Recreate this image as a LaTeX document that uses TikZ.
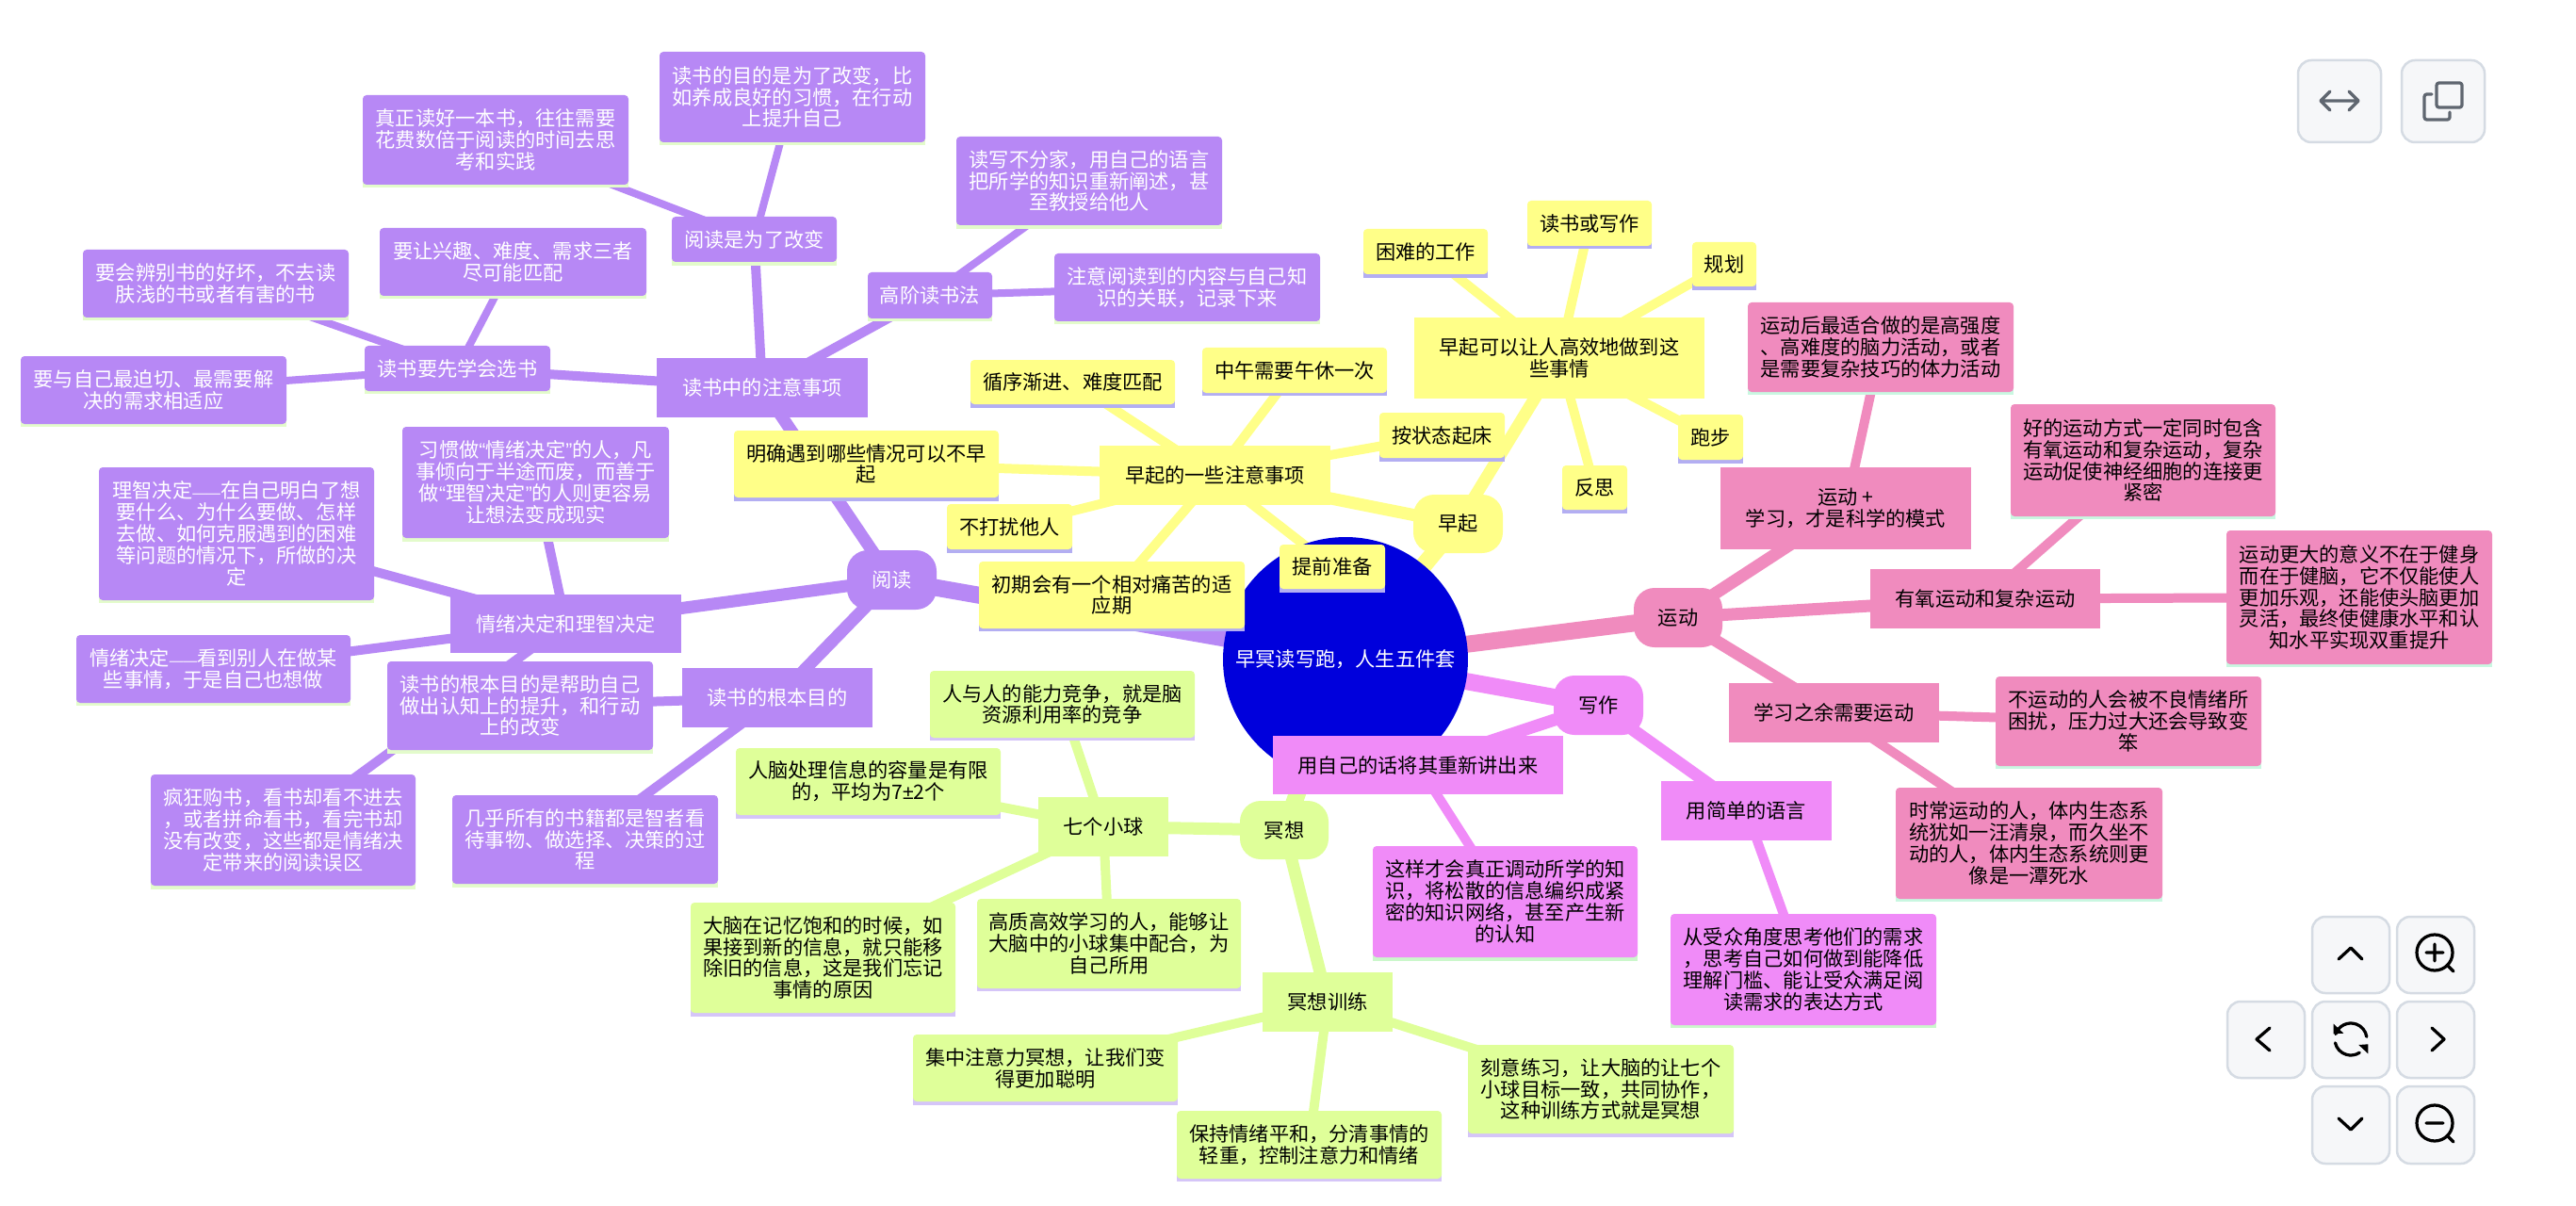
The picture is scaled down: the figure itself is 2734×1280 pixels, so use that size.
\documentclass[tikz,border=0pt]{standalone}
\usepackage{fontspec}
\setmainfont{Noto Sans CJK SC}
\newfontfamily\qf{Liberation Sans}
\newfontfamily\df[Scale=0.7]{Liberation Sans}
\pgfdeclarelayer{bgw}
\pgfdeclarelayer{bg}
\pgfsetlayers{bgw,bg,main}
\definecolor{puc}{HTML}{B788F5}
\definecolor{yec}{HTML}{FFFF88}
\definecolor{pkc}{HTML}{F08BBE}
\definecolor{mgc}{HTML}{F08BF8}
\definecolor{lic}{HTML}{DFFF99}
\definecolor{pus}{HTML}{E3FBCB}
\definecolor{yes}{HTML}{B3AEF2}
\definecolor{pks}{HTML}{C9F7E1}
\definecolor{mgs}{HTML}{CBF7CB}
\definecolor{lis}{HTML}{D5C5F8}
\definecolor{rootc}{HTML}{0000DC}
\definecolor{btnf}{HTML}{F6F7F9}
\definecolor{btnb}{HTML}{D5DBE3}
\definecolor{icong}{HTML}{5F6670}
\tikzset{
  pu/.style={fill=puc,text=white},
  ye/.style={fill=yec,text=black},
  pk/.style={fill=pkc,text=black},
  mg/.style={fill=mgc,text=black},
  li/.style={fill=lic,text=black},
  txt/.style={font=\fontsize{12.07}{13}\selectfont,align=center,inner sep=0pt,outer sep=0pt},
  leafbox/.style={txt,rectangle,rounded corners=0.08cm},
  midbox/.style={txt,rectangle},
  topbox/.style={txt,rectangle,rounded corners=0.44cm},
  e1/.style={line width=0.36cm},
  e2/.style={line width=0.26cm},
  e3/.style={line width=0.2cm},
  e4/.style={line width=0.16cm},
  btn/.style={rectangle,rounded corners=0.28cm,draw=btnb,fill=btnf,line width=0.05cm,inner sep=0pt},
  ico/.style={line width=0.065cm,line cap=round,line join=round},
}
% name, family, x1,y1,x2,y2, strip bottom, text
\newcommand{\lfn}[8]{%
  \fill[#2s] ({#3},{#6-6}) rectangle ({#5},{#7});
  \node[leafbox,#2,minimum width={(#5-#3)*0.02cm},minimum height={(#6-#4)*0.02cm}] (#1) at ({(#3+#5)/2},{(#4+#6)/2}) {#8};}
\newcommand{\mdn}[7]{%
  \node[midbox,#2,minimum width={(#5-#3)*0.02cm},minimum height={(#6-#4)*0.02cm}] (#1) at ({(#3+#5)/2},{(#4+#6)/2}) {#7};}
\newcommand{\tpn}[7]{%
  \node[topbox,#2,minimum width={(#5-#3)*0.02cm},minimum height={(#6-#4)*0.02cm}] (#1) at ({(#3+#5)/2},{(#4+#6)/2}) {#7};}
\newcommand{\btnn}[5]{%
  \node[btn,minimum width={(#4-#2)*0.02cm},minimum height={(#5-#3)*0.02cm}] (#1) at ({(#2+#4)/2},{(#3+#5)/2}) {};}
\begin{document}
\begin{tikzpicture}[x=0.02cm,y=-0.02cm]
\useasboundingbox (0,0) rectangle (2734,1280);
\begin{pgfonlayer}{bgw}
\fill[white] (0,0) rectangle (2734,1280);
\end{pgfonlayer}
% root
\node[circle,fill=rootc,text=white,minimum size=5.2cm,inner sep=0pt,font=\fontsize{12.07}{13}\selectfont] (root) at (1428,700) {早冥读写跑，人生五件套};
% reading
\tpn{yd}{pu}{899}{584}{994}{647}{阅读}
\mdn{yz}{pu}{697}{380}{921}{443}{读书中的注意事项}
\lfn{yg}{pu}{713}{230}{888}{278}{282}{阅读是为了改变}
\lfn{yg1}{pu}{700}{55}{982}{151}{154}{读书的目的是为了改变，比\\如养成良好的习惯，在行动\\上提升自己}
\lfn{yg2}{pu}{385}{101}{667}{196}{199}{真正读好一本书，往往需要\\花费数倍于阅读的时间去思\\考和实践}
\lfn{gj}{pu}{921}{289}{1053}{338}{341}{高阶读书法}
\lfn{gj1}{pu}{1015}{145}{1297}{239}{243}{读写不分家，用自己的语言\\把所学的知识重新阐述，甚\\至教授给他人}
\lfn{gj2}{pu}{1119}{269}{1401}{341}{344}{注意阅读到的内容与自己知\\识的关联，记录下来}
\lfn{xs}{pu}{387}{367}{584}{415}{418}{读书要先学会选书}
\lfn{xs1}{pu}{403}{242}{686}{314}{317}{要让兴趣、难度、需求三者\\尽可能匹配}
\lfn{xs2}{pu}{88}{265}{370}{337}{340}{要会辨别书的好坏，不去读\\肤浅的书或者有害的书}
\lfn{xs3}{pu}{22}{378}{304}{450}{453}{要与自己最迫切、最需要解\\决的需求相适应}
\mdn{qx}{pu}{478}{631}{723}{693}{情绪决定和理智决定}
\lfn{qx1}{pu}{427}{453}{710}{571}{575}{习惯做{\qf “}情绪决定{\qf ”}的人，凡\\事倾向于半途而废，而善于\\做{\qf “}理智决定{\qf ”}的人则更容易\\让想法变成现实}
\lfn{qx2}{pu}{105}{496}{397}{637}{640}{理智决定{\df ——}在自己明白了想\\要什么、为什么要做、怎样\\去做、如何克服遇到的困难\\等问题的情况下，所做的决\\定}
\lfn{qx3}{pu}{81}{674}{372}{746}{749}{情绪决定{\df ——}看到别人在做某\\些事情，于是自己也想做}
\lfn{qx4}{pu}{160}{822}{441}{940}{944}{疯狂购书，看书却看不进去\\，或者拼命看书，看完书却\\没有改变，这些都是情绪决\\定带来的阅读误区}
\mdn{gb}{pu}{724}{709}{926}{772}{读书的根本目的}
\lfn{gb1}{pu}{411}{702}{693}{796}{800}{读书的根本目的是帮助自己\\做出认知上的提升，和行动\\上的改变}
\lfn{gb2}{pu}{480}{844}{762}{938}{942}{几乎所有的书籍都是智者看\\待事物、做选择、决策的过\\程}
% early rising
\tpn{zq}{ye}{1500}{525}{1595}{587}{早起}
\mdn{zk}{ye}{1501}{337}{1809}{423}{早起可以让人高效地做到这\\些事情}
\lfn{zk1}{ye}{1447}{243}{1579}{291}{295}{困难的工作}
\lfn{zk2}{ye}{1621}{213}{1753}{261}{264}{读书或写作}
\lfn{zk3}{ye}{1796}{257}{1864}{304}{308}{规划}
\lfn{zk4}{ye}{1781}{440}{1850}{488}{492}{跑步}
\lfn{zk5}{ye}{1658}{494}{1727}{541}{545}{反思}
\mdn{zs}{ye}{1167}{473}{1412}{536}{早起的一些注意事项}
\lfn{zs1}{ye}{1276}{369}{1472}{417}{420}{中午需要午休一次}
\lfn{zs2}{ye}{1030}{382}{1247}{429}{433}{循序渐进、难度匹配}
\lfn{zs3}{ye}{1464}{438}{1597}{486}{490}{按状态起床}
\lfn{zs4}{ye}{779}{457}{1060}{528}{532}{明确遇到哪些情况可以不早\\起}
\lfn{zs5}{ye}{1005}{535}{1138}{583}{587}{不打扰他人}
\lfn{zs6}{ye}{1039}{596}{1321}{667}{670}{初期会有一个相对痛苦的适\\应期}
\lfn{zs7}{ye}{1358}{578}{1470}{625}{629}{提前准备}
% sport
\tpn{yu}{pk}{1734}{624}{1828}{687}{运动}
\mdn{yx}{pk}{1826}{496}{2092}{583}{运动 +\\学习，才是科学的模式}
\lfn{yx1}{pk}{1855}{321}{2137}{416}{419}{运动后最适合做的是高强度\\、高难度的脑力活动，或者\\是需要复杂技巧的体力活动}
\mdn{yy}{pk}{1985}{604}{2229}{667}{有氧运动和复杂运动}
\lfn{yy1}{pk}{2134}{429}{2415}{548}{551}{好的运动方式一定同时包含\\有氧运动和复杂运动，复杂\\运动促使神经细胞的连接更\\紧密}
\lfn{yy2}{pk}{2363}{563}{2645}{705}{708}{运动更大的意义不在于健身\\而在于健脑，它不仅能使人\\更加乐观，还能使头脑更加\\灵活，最终使健康水平和认\\知水平实现双重提升}
\mdn{ys}{pk}{1835}{725}{2058}{788}{学习之余需要运动}
\lfn{ys1}{pk}{2118}{718}{2400}{813}{816}{不运动的人会被不良情绪所\\困扰，压力过大还会导致变\\笨}
\lfn{ys2}{pk}{2012}{836}{2295}{954}{957}{时常运动的人，体内生态系\\统犹如一汪清泉，而久坐不\\动的人，体内生态系统则更\\像是一潭死水}
% writing
\tpn{xz}{mg}{1649}{717}{1744}{780}{写作}
\mdn{xa}{mg}{1351}{781}{1659}{843}{用自己的话将其重新讲出来}
\lfn{xa1}{mg}{1457}{898}{1738}{1016}{1020}{这样才会真正调动所学的知\\识，将松散的信息编织成紧\\密的知识网络，甚至产生新\\的认知}
\mdn{xb}{mg}{1763}{829}{1944}{892}{用简单的语言}
\lfn{xb1}{mg}{1773}{970}{2055}{1088}{1091}{从受众角度思考他们的需求\\，思考自己如何做到能降低\\理解门槛、能让受众满足阅\\读需求的表达方式}
% meditation
\tpn{mx}{li}{1316}{850}{1410}{912}{冥想}
\mdn{mq}{li}{1102}{846}{1240}{909}{七个小球}
\lfn{mq1}{li}{987}{712}{1268}{783}{786}{人与人的能力竞争，就是脑\\资源利用率的竞争}
\lfn{mq2}{li}{781}{794}{1062}{865}{869}{人脑处理信息的容量是有限\\的，平均为7{\qf ±}2个}
\lfn{mq3}{li}{733}{958}{1014}{1075}{1079}{大脑在记忆饱和的时候，如\\果接到新的信息，就只能移\\除旧的信息，这是我们忘记\\事情的原因}
\lfn{mq4}{li}{1037}{954}{1317}{1049}{1052}{高质高效学习的人，能够让\\大脑中的小球集中配合，为\\自己所用}
\mdn{mt}{li}{1340}{1032}{1478}{1095}{冥想训练}
\lfn{mt1}{li}{969}{1098}{1250}{1169}{1173}{集中注意力冥想，让我们变\\得更加聪明}
\lfn{mt2}{li}{1249}{1179}{1530}{1251}{1254}{保持情绪平和，分清事情的\\轻重，控制注意力和情绪}
\lfn{mt3}{li}{1558}{1109}{1840}{1203}{1207}{刻意练习，让大脑的让七个\\小球目标一致，共同协作，\\这种训练方式就是冥想}
% connectors
\begin{pgfonlayer}{bg}
\foreach \a/\b/\c/\w in {
 root/yd/puc/e1, yd/yz/puc/e2, yd/qx/puc/e2, yd/gb/puc/e2,
 yz/yg/puc/e3, yz/gj/puc/e3, yz/xs/puc/e3,
 yg/yg1/puc/e4, yg/yg2/puc/e4, gj/gj1/puc/e4, gj/gj2/puc/e4,
 xs/xs1/puc/e4, xs/xs2/puc/e4, xs/xs3/puc/e4,
 qx/qx1/puc/e3, qx/qx2/puc/e3, qx/qx3/puc/e3, qx/qx4/puc/e3,
 gb/gb1/puc/e3, gb/gb2/puc/e3,
 root/zq/yec/e1, zq/zk/yec/e2, zq/zs/yec/e2,
 zk/zk1/yec/e3, zk/zk2/yec/e3, zk/zk3/yec/e3, zk/zk4/yec/e3, zk/zk5/yec/e3,
 zs/zs1/yec/e3, zs/zs2/yec/e3, zs/zs3/yec/e3, zs/zs4/yec/e3, zs/zs5/yec/e3, zs/zs6/yec/e3, zs/zs7/yec/e3,
 root/yu/pkc/e1, yu/yx/pkc/e2, yu/yy/pkc/e2, yu/ys/pkc/e2,
 yx/yx1/pkc/e3, yy/yy1/pkc/e3, yy/yy2/pkc/e3, ys/ys1/pkc/e3, ys/ys2/pkc/e3,
 root/xz/mgc/e1, xz/xa/mgc/e2, xz/xb/mgc/e2, xa/xa1/mgc/e3, xb/xb1/mgc/e3,
 root/mx/lic/e1, mx/mq/lic/e2, mx/mt/lic/e2,
 mq/mq1/lic/e3, mq/mq2/lic/e3, mq/mq3/lic/e3, mq/mq4/lic/e3,
 mt/mt1/lic/e3, mt/mt2/lic/e3, mt/mt3/lic/e3}
  \draw[\w,draw=\c] (\a.center) -- (\b.center);
\end{pgfonlayer}
% buttons
\btnn{bfit}{2439}{64}{2527}{151}
\btnn{bcopy}{2549}{64}{2637}{151}
\btnn{bup}{2454}{973}{2536}{1054}
\btnn{bzin}{2544}{973}{2626}{1054}
\btnn{bleft}{2364}{1063}{2446}{1144}
\btnn{breset}{2454}{1063}{2536}{1144}
\btnn{bright}{2544}{1063}{2626}{1144}
\btnn{bdown}{2454}{1153}{2536}{1235}
\btnn{bzout}{2544}{1153}{2626}{1235}
% icons
\draw[ico,draw=icong] (2463,107) -- (2503,107) (2473,97) -- (2463,107) -- (2473,117) (2493,97) -- (2503,107) -- (2493,117);
\draw[ico,draw=icong,rounded corners=0.05cm] (2586,88) rectangle (2613,114);
\draw[ico,draw=icong,rounded corners=0.05cm] (2581,100) -- (2573,100) -- (2573,127) -- (2600,127) -- (2600,119);
\draw[ico] (2482,1018) -- (2495,1006) -- (2507,1018);
\draw[ico] (2409,1091) -- (2395,1103) -- (2409,1115);
\draw[ico] (2581,1091) -- (2594,1103) -- (2581,1115);
\draw[ico] (2482,1187) -- (2495,1199) -- (2507,1187);
\draw[ico] (2584,1011) circle [radius=0.38cm];
\draw[ico] (2575,1011) -- (2593,1011) (2584,1002) -- (2584,1020) (2597,1024) -- (2604,1031);
\draw[ico] (2584,1192) circle [radius=0.38cm];
\draw[ico] (2575,1192) -- (2593,1192) (2597,1205) -- (2604,1212);
\draw[ico] (2495,1103) ++(161:0.34cm) arc [start angle=161,end angle=9,radius=0.34cm];
\draw[ico] (2495,1103) ++(193:0.34cm) arc [start angle=193,end angle=303,radius=0.34cm];
\fill (2476.7,1086.7) -- (2476.7,1097.3) -- (2487.3,1096.7) -- cycle;
\fill (2513.3,1118.3) -- (2513.3,1108.3) -- (2503.3,1109) -- cycle;
\end{tikzpicture}
\end{document}
